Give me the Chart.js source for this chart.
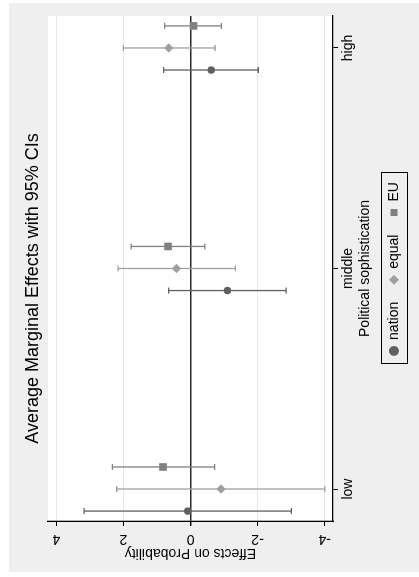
<!DOCTYPE html>
<html>
<head>
<meta charset="utf-8">
<script src="https://cdn.jsdelivr.net/npm/chart.js@4/dist/chart.umd.min.js"></script>
<style>
  html, body { margin: 0; padding: 0; background: #fff; overflow: hidden; }
  #wrap { position: relative; width: 419px; height: 577px; }
  /* the stata graph is drawn upright and then turned a quarter to the left */
  #chart { position: absolute; left: 0; top: 0; transform-origin: 0 0;
           transform: translateY(577px) rotate(-90deg); }
</style>
</head>
<body>
<div id="wrap"><canvas id="chart" width="577" height="419"></canvas></div>
<script>
// categories on the x axis
const categories = ['low', 'middle', 'high'];
const yTicks = [-4, -2, 0, 2, 4];

// point estimates and 95% CI per category (low, middle, high)
const nationEst = [0.08, -1.10, -0.62];
const nationLo = [-3.01, -2.85, -2.02];
const nationHi = [3.17, 0.65, 0.80];

const equalEst = [-0.91, 0.42, 0.65];
const equalLo = [-4.01, -1.34, -0.73];
const equalHi = [2.20, 2.16, 2.00];

const euEst = [0.82, 0.67, -0.09];
const euLo = [-0.72, -0.43, -0.92];
const euHi = [2.33, 1.77, 0.77];

const fontFamily = '"Liberation Sans", Arial, Helvetica, sans-serif';

function series(label, est, lo, hi, shift, color, style, radius) {
    return {
        label: label,
        data: est.map((v, i) => ({x: i + 1 + shift, y: v, lo: lo[i], hi: hi[i]})),
        backgroundColor: color,
        borderColor: color,
        borderWidth: 0,
        pointStyle: style,
        pointRadius: radius,
        pointHoverRadius: radius,
    };
}

// error bars with caps, drawn through the chart scales
const errorBars = {
    id: 'errorBars',
    beforeDatasetsDraw(chart) {
        const ctx = chart.ctx;
        const xs = chart.scales.x, ys = chart.scales.y;
        ctx.save();
        chart.data.datasets.forEach(ds => {
            ctx.strokeStyle = ds.borderColor;
            ctx.lineWidth = 1.3;
            ds.data.forEach(d => {
                const px = xs.getPixelForValue(d.x);
                const p1 = ys.getPixelForValue(d.lo);
                const p2 = ys.getPixelForValue(d.hi);
                ctx.beginPath();
                ctx.moveTo(px, p1); ctx.lineTo(px, p2);
                ctx.moveTo(px - 3, p1); ctx.lineTo(px + 3, p1);
                ctx.moveTo(px - 3, p2); ctx.lineTo(px + 3, p2);
                ctx.stroke();
            });
        });
        ctx.restore();
    }
};

// grey graph region, white plot region, box round the legend
const background = {
    id: 'background',
    beforeDraw(chart) {
        const ctx = chart.ctx, a = chart.chartArea;
        ctx.save();
        ctx.fillStyle = '#ffffff';
        ctx.fillRect(0, 0, chart.width, chart.height);
        ctx.fillStyle = '#efefef';
        ctx.fillRect(5, 9, chart.width - 8, chart.height - 9);
        ctx.fillStyle = '#ffffff';
        ctx.fillRect(a.left, a.top, a.right - a.left, a.bottom - a.top);
        ctx.restore();
    },
    afterDraw(chart) {
        const hb = chart.legend.legendHitBoxes;
        if (!hb.length) return;
        const last = hb[hb.length - 1];
        const ctx = chart.ctx;
        ctx.save();
        ctx.strokeStyle = '#000';
        ctx.lineWidth = 1;
        const l = hb[0].left - 9, r = last.left + last.width + 9;
        const t = hb[0].top - 6, b = hb[0].top + hb[0].height + 6;
        ctx.strokeRect(Math.round(l) + 0.5, Math.round(t) + 0.5, Math.round(r - l), Math.round(b - t));
        ctx.restore();
    }
};

const chart = new Chart(document.getElementById('chart'), {
    type: 'scatter',
    data: {
        datasets: [
            series('nation', nationEst, nationLo, nationHi, -0.1, '#606060', 'circle', 3.7),
            series('equal', equalEst, equalLo, equalHi, 0, '#a0a0a0', 'rectRot', 4.7),
            series('EU', euEst, euLo, euHi, 0.1, '#808080', 'rect', 5.4),
        ]
    },
    options: {
        responsive: false,
        devicePixelRatio: 1,
        animation: false,
        layout: { padding: { left: 16, right: 16, top: 0, bottom: 8 } },
        scales: {
            x: {
                type: 'linear',
                min: 0.855,
                max: 3.145,
                afterBuildTicks: s => { s.ticks = categories.map((c, i) => ({value: i + 1})); },
                ticks: {
                    callback: (v, i) => categories[i],
                    autoSkip: false, maxRotation: 0, padding: 1.6,
                    color: '#000', font: {family: fontFamily, size: 14}
                },
                grid: { drawOnChartArea: false, tickLength: 5, tickColor: '#000' },
                border: { color: '#000', width: 1.3 },
                title: {
                    display: true, text: 'Political sophistication', color: '#000',
                    font: {family: fontFamily, size: 14}, padding: {top: 0, bottom: -4.4}
                },
                afterFit: s => { s.height = 36; }
            },
            y: {
                min: -4.25,
                max: 4.25,
                afterBuildTicks: s => { s.ticks = yTicks.map(v => ({value: v})); },
                ticks: {
                    minRotation: 90, maxRotation: 90, crossAlign: 'center', padding: 6.8,
                    color: '#000', font: {family: fontFamily, size: 14}
                },
                grid: {
                    color: c => (c.tick && c.tick.value === 0) ? '#2a2a2a' : '#e8e8e8',
                    lineWidth: c => (c.tick && c.tick.value === 0) ? 1.4 : 1,
                    tickLength: 5, tickColor: '#000'
                },
                border: { color: '#000', width: 1.3 },
                title: {
                    display: true, text: 'Effects on Probability', color: '#000',
                    font: {family: fontFamily, size: 14}, padding: {top: 0, bottom: 0}
                },
                afterFit: s => { s.width = 40; }
            }
        },
        plugins: {
            title: {
                display: true,
                text: 'Average Marginal Effects with 95% CIs',
                color: '#000',
                font: {family: fontFamily, size: 18, weight: 'normal'},
                padding: {top: 22.2, bottom: 4.2}
            },
            legend: {
                position: 'bottom',
                fullSize: false,
                labels: {
                    usePointStyle: true, boxWidth: 8, boxHeight: 7, padding: 18,
                    color: '#000', font: {family: fontFamily, size: 14}
                }
            },
            tooltip: { enabled: false }
        }
    },
    plugins: [background, errorBars]
});
</script>
</body>
</html>
